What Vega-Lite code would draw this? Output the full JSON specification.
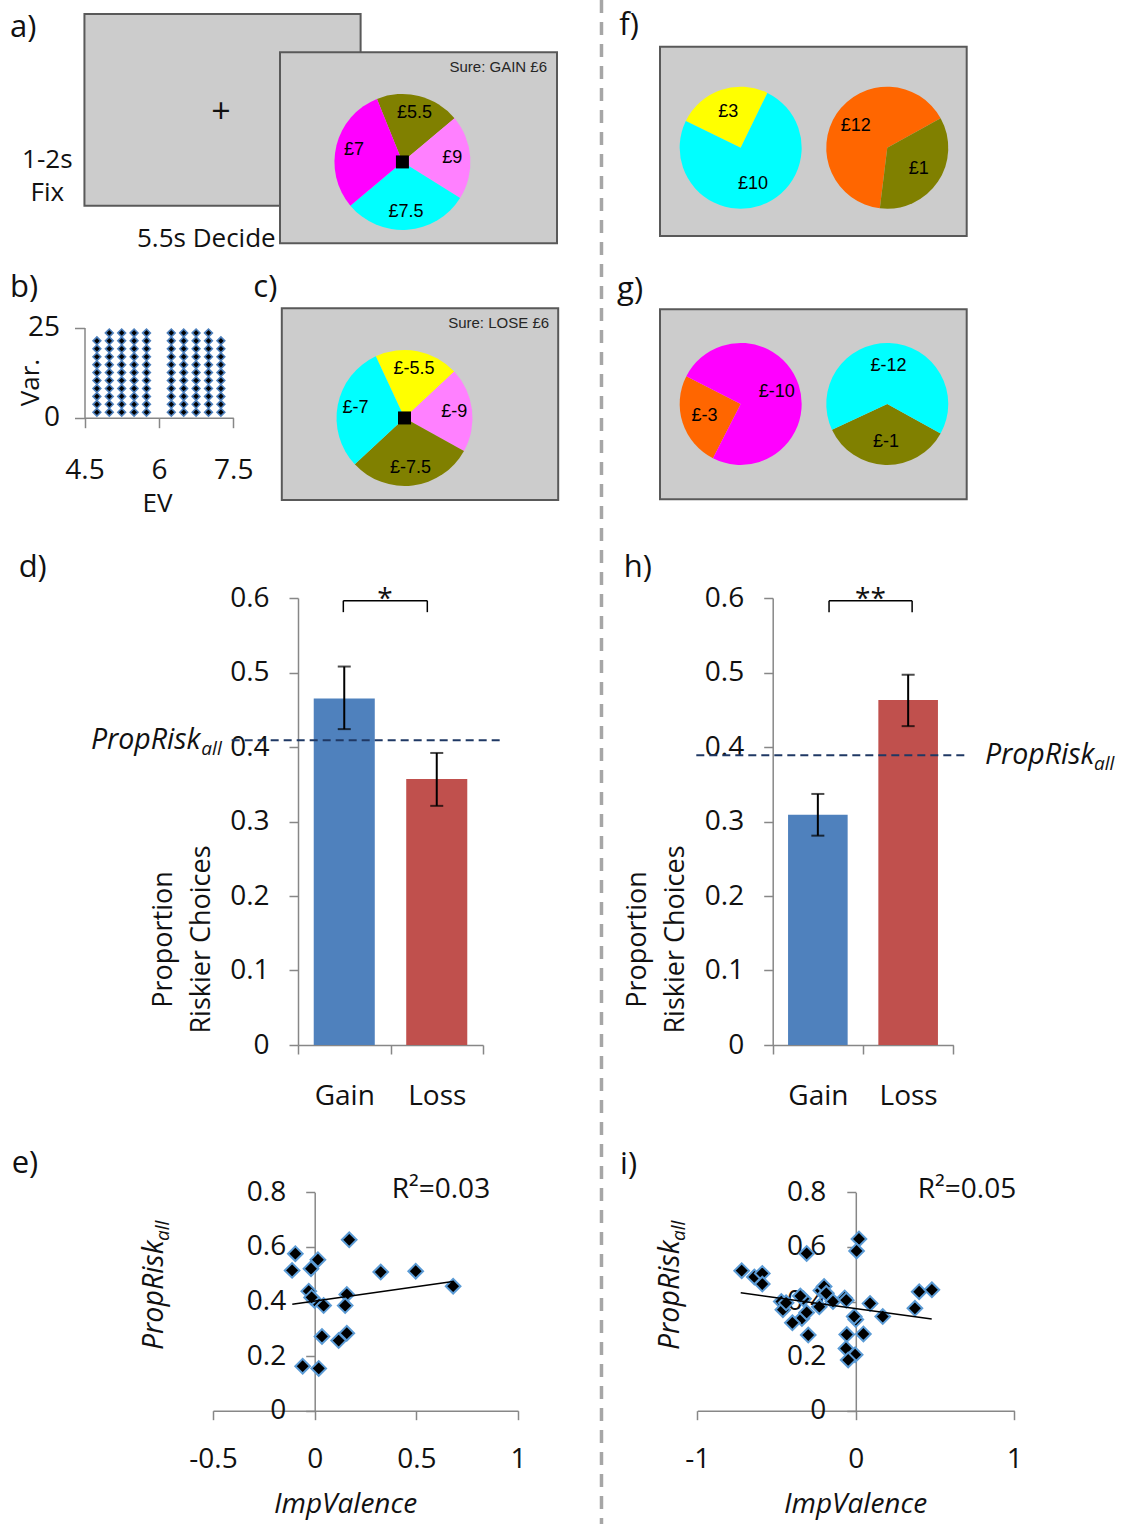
{
"$schema":"https://vega.github.io/schema/vega-lite/v6.json",
"width":1129,"height":1524,
"autosize":{"type":"none"},
"padding":0,
"background":"white",
"config":{
 "view":{"stroke":null},
 "font":"Open Sans",
 "locale":{"number":{"decimal":".","thousands":",","grouping":[3],"currency":["£",""],"minus":"-"}},
 "axis":{"grid":false,"domainColor":"#878787","domainWidth":1.5,"tickColor":"#878787","tickWidth":1.5,"tickSize":9,"labelFont":"Open Sans","labelFontSize":28,"labelColor":"#111111","labelFlush":false,"labelOverlap":false,"titleFont":"Open Sans","titleFontSize":25,"titleFontWeight":"normal","titleColor":"#111111"},
 "text":{"font":"Open Sans","color":"#111111"}
},
"datasets":{
 "pies":[
  {"pie":"a","label":"£5.5","colour":"olive","prob":0.2,"seq":1},
  {"pie":"a","label":"£9","colour":"pink","prob":0.2,"seq":2},
  {"pie":"a","label":"£7.5","colour":"cyan","prob":0.3,"seq":3},
  {"pie":"a","label":"£7","colour":"magenta","prob":0.3,"seq":4},
  {"pie":"c","label":"£-5.5","colour":"yellow","prob":0.2,"seq":1},
  {"pie":"c","label":"£-9","colour":"pink","prob":0.2,"seq":2},
  {"pie":"c","label":"£-7.5","colour":"olive","prob":0.3,"seq":3},
  {"pie":"c","label":"£-7","colour":"cyan","prob":0.3,"seq":4},
  {"pie":"f1","label":"£3","colour":"yellow","prob":0.25,"seq":1},
  {"pie":"f1","label":"£10","colour":"cyan","prob":0.75,"seq":2},
  {"pie":"f2","label":"£12","colour":"orange","prob":0.65,"seq":1},
  {"pie":"f2","label":"£1","colour":"olive","prob":0.35,"seq":2},
  {"pie":"g1","label":"£-3","colour":"orange","prob":0.25,"seq":1},
  {"pie":"g1","label":"£-10","colour":"magenta","prob":0.75,"seq":2},
  {"pie":"g2","label":"£-1","colour":"olive","prob":0.35,"seq":1},
  {"pie":"g2","label":"£-12","colour":"cyan","prob":0.65,"seq":2}
 ],
 "design":[
  {"ev":4.75,"v":1.5},{"ev":4.75,"v":3.7},{"ev":4.75,"v":5.9},{"ev":4.75,"v":8.1},{"ev":4.75,"v":10.3},{"ev":4.75,"v":12.5},{"ev":4.75,"v":14.7},{"ev":4.75,"v":16.9},{"ev":4.75,"v":19.1},{"ev":4.75,"v":21.3},
  {"ev":5,"v":1.5},{"ev":5,"v":3.7},{"ev":5,"v":5.9},{"ev":5,"v":8.1},{"ev":5,"v":10.3},{"ev":5,"v":12.5},{"ev":5,"v":14.7},{"ev":5,"v":16.9},{"ev":5,"v":19.1},{"ev":5,"v":21.3},{"ev":5,"v":23.5},
  {"ev":5.25,"v":1.5},{"ev":5.25,"v":3.7},{"ev":5.25,"v":5.9},{"ev":5.25,"v":8.1},{"ev":5.25,"v":10.3},{"ev":5.25,"v":12.5},{"ev":5.25,"v":14.7},{"ev":5.25,"v":16.9},{"ev":5.25,"v":19.1},{"ev":5.25,"v":21.3},{"ev":5.25,"v":23.5},
  {"ev":5.5,"v":1.5},{"ev":5.5,"v":3.7},{"ev":5.5,"v":5.9},{"ev":5.5,"v":8.1},{"ev":5.5,"v":10.3},{"ev":5.5,"v":12.5},{"ev":5.5,"v":14.7},{"ev":5.5,"v":16.9},{"ev":5.5,"v":19.1},{"ev":5.5,"v":21.3},{"ev":5.5,"v":23.5},
  {"ev":5.75,"v":1.5},{"ev":5.75,"v":3.7},{"ev":5.75,"v":5.9},{"ev":5.75,"v":8.1},{"ev":5.75,"v":10.3},{"ev":5.75,"v":12.5},{"ev":5.75,"v":14.7},{"ev":5.75,"v":16.9},{"ev":5.75,"v":19.1},{"ev":5.75,"v":21.3},{"ev":5.75,"v":23.5},
  {"ev":6.25,"v":1.5},{"ev":6.25,"v":3.7},{"ev":6.25,"v":5.9},{"ev":6.25,"v":8.1},{"ev":6.25,"v":10.3},{"ev":6.25,"v":12.5},{"ev":6.25,"v":14.7},{"ev":6.25,"v":16.9},{"ev":6.25,"v":19.1},{"ev":6.25,"v":21.3},{"ev":6.25,"v":23.5},
  {"ev":6.5,"v":1.5},{"ev":6.5,"v":3.7},{"ev":6.5,"v":5.9},{"ev":6.5,"v":8.1},{"ev":6.5,"v":10.3},{"ev":6.5,"v":12.5},{"ev":6.5,"v":14.7},{"ev":6.5,"v":16.9},{"ev":6.5,"v":19.1},{"ev":6.5,"v":21.3},{"ev":6.5,"v":23.5},
  {"ev":6.75,"v":1.5},{"ev":6.75,"v":3.7},{"ev":6.75,"v":5.9},{"ev":6.75,"v":8.1},{"ev":6.75,"v":10.3},{"ev":6.75,"v":12.5},{"ev":6.75,"v":14.7},{"ev":6.75,"v":16.9},{"ev":6.75,"v":19.1},{"ev":6.75,"v":21.3},{"ev":6.75,"v":23.5},
  {"ev":7,"v":1.5},{"ev":7,"v":3.7},{"ev":7,"v":5.9},{"ev":7,"v":8.1},{"ev":7,"v":10.3},{"ev":7,"v":12.5},{"ev":7,"v":14.7},{"ev":7,"v":16.9},{"ev":7,"v":19.1},{"ev":7,"v":21.3},{"ev":7,"v":23.5},
  {"ev":7.25,"v":1.5},{"ev":7.25,"v":3.7},{"ev":7.25,"v":5.9},{"ev":7.25,"v":8.1},{"ev":7.25,"v":10.3},{"ev":7.25,"v":12.5},{"ev":7.25,"v":14.7},{"ev":7.25,"v":16.9},{"ev":7.25,"v":19.1},{"ev":7.25,"v":21.3}
 ],
 "choices":[
  {"study":"d","cond":"Gain","prop":0.465,"lo":0.424,"hi":0.508},
  {"study":"d","cond":"Loss","prop":0.357,"lo":0.321,"hi":0.392},
  {"study":"h","cond":"Gain","prop":0.309,"lo":0.281,"hi":0.337},
  {"study":"h","cond":"Loss","prop":0.463,"lo":0.428,"hi":0.497}
 ],
 "propall":[{"study":"d","value":0.409},{"study":"h","value":0.389}],
 "scatterE":[
  {"imp":-0.095,"prop":0.575},{"imp":-0.111,"prop":0.514},{"imp":0.016,"prop":0.553},{"imp":-0.018,"prop":0.52},{"imp":-0.029,"prop":0.438},{"imp":0.0,"prop":0.404},{"imp":-0.015,"prop":0.415},{"imp":0.044,"prop":0.385},{"imp":0.158,"prop":0.426},{"imp":0.15,"prop":0.385},{"imp":0.17,"prop":0.626},{"imp":0.325,"prop":0.508},{"imp":0.497,"prop":0.511},{"imp":0.681,"prop":0.456},{"imp":0.036,"prop":0.272},{"imp":0.118,"prop":0.257},{"imp":0.158,"prop":0.284},{"imp":-0.059,"prop":0.163},{"imp":0.02,"prop":0.155}
 ],
 "scatterI":[
  {"imp":-0.72,"prop":0.513},{"imp":-0.64,"prop":0.49},{"imp":-0.59,"prop":0.503},{"imp":-0.59,"prop":0.464},{"imp":-0.31,"prop":0.576},{"imp":0.02,"prop":0.629},{"imp":0.005,"prop":0.585},{"imp":-0.47,"prop":0.4},{"imp":-0.46,"prop":0.37},{"imp":-0.44,"prop":0.395},{"imp":-0.33,"prop":0.41},{"imp":-0.35,"prop":0.42},{"imp":-0.34,"prop":0.338},{"imp":-0.4,"prop":0.322},{"imp":-0.31,"prop":0.36},{"imp":-0.3,"prop":0.277},{"imp":-0.23,"prop":0.381},{"imp":-0.22,"prop":0.44},{"imp":-0.2,"prop":0.455},{"imp":-0.186,"prop":0.43},{"imp":-0.144,"prop":0.4},{"imp":-0.07,"prop":0.413},{"imp":-0.06,"prop":0.405},{"imp":0.0,"prop":0.334},{"imp":-0.01,"prop":0.345},{"imp":-0.057,"prop":0.279},{"imp":0.048,"prop":0.281},{"imp":-0.062,"prop":0.228},{"imp":-0.004,"prop":0.205},{"imp":-0.048,"prop":0.186},{"imp":0.09,"prop":0.393},{"imp":0.17,"prop":0.345},{"imp":0.373,"prop":0.375},{"imp":0.4,"prop":0.436},{"imp":0.48,"prop":0.443}
 ],
 "fit":[
  {"study":"e","imp":-0.11,"prop":0.39},{"study":"e","imp":0.68,"prop":0.473},
  {"study":"i","imp":-0.726,"prop":0.432},{"study":"i","imp":0.479,"prop":0.336}
 ]
},
"resolve":{"scale":{"x":"independent","y":"independent","theta":"independent","color":"independent"}},
"layer":[
 {"layer":[
  {"data":{"values":[{"screen":"fixation"}]},"mark":{"type":"rect","fill":"#cccccc","stroke":"#595959","strokeWidth":2},
   "encoding":{"x":{"datum":-0.706,"type":"quantitative","scale":{"domain":[0,1],"range":[280,557],"nice":false,"zero":false},"axis":null},"x2":{"datum":0.291},
   "y":{"datum":-0.2005,"type":"quantitative","scale":{"domain":[0,1],"range":[52.3,243.3],"nice":false,"zero":false},"axis":null},"y2":{"datum":0.803}}},
  {"data":{"values":[{"label":"+"}]},"mark":{"type":"text","fontSize":34,"baseline":"middle"},
   "encoding":{"x":{"datum":-0.213,"type":"quantitative","axis":null},"y":{"datum":0.318,"type":"quantitative","axis":null},"text":{"field":"label"}}},
  {"data":{"values":[{"label":"1-2s"}]},"mark":{"type":"text","fontSize":26,"baseline":"middle"},
   "encoding":{"x":{"datum":-0.84,"type":"quantitative","axis":null},"y":{"datum":0.564,"type":"quantitative","axis":null},"text":{"field":"label"}}},
  {"data":{"values":[{"label":"Fix"}]},"mark":{"type":"text","fontSize":26,"baseline":"middle"},
   "encoding":{"x":{"datum":-0.84,"type":"quantitative","axis":null},"y":{"datum":0.738,"type":"quantitative","axis":null},"text":{"field":"label"}}},
  {"data":{"values":[{"label":"5.5s Decide"}]},"mark":{"type":"text","fontSize":26,"baseline":"middle"},
   "encoding":{"x":{"datum":-0.266,"type":"quantitative","axis":null},"y":{"datum":0.977,"type":"quantitative","axis":null},"text":{"field":"label"}}},
  {"data":{"values":[{"label":"a)"}]},"mark":{"type":"text","fontSize":31,"align":"left","baseline":"middle"},
   "encoding":{"x":{"datum":-0.975,"type":"quantitative","axis":null},"y":{"datum":-0.127,"type":"quantitative","axis":null},"text":{"field":"label"}}},
  {"data":{"values":[{"screen":"decision"}]},"mark":{"type":"rect","fill":"#cccccc","stroke":"#595959","strokeWidth":2},
   "encoding":{"x":{"datum":0,"type":"quantitative","axis":null},"x2":{"datum":1},"y":{"datum":0,"type":"quantitative","axis":null},"y2":{"datum":1}}},
  {"data":{"name":"pies"},"transform":[{"filter":{"field":"pie","equal":"a"}}],
   "encoding":{"theta":{"field":"prob","type":"quantitative","stack":true,"scale":{"domain":[0,1],"range":[-0.384,5.899]}},"order":{"field":"seq","type":"quantitative"},
     "x":{"datum":0.442,"type":"quantitative","axis":null},"y":{"datum":0.574,"type":"quantitative","axis":null}},
   "layer":[
    {"mark":{"type":"arc","outerRadius":68},"encoding":{"color":{"field":"colour","type":"nominal","legend":null,"scale":{"domain":["olive","pink","cyan","magenta","yellow","orange"],"range":["#808000","#ff80ff","#00ffff","#ff00ff","#ffff00","#ff6600"]}}}},
    {"mark":{"type":"text","radius":50,"font":"Liberation Sans","fontSize":18,"color":"black","baseline":"middle"},"encoding":{"text":{"field":"label"},"detail":{"field":"colour"}}}
   ]},
  {"data":{"values":[{"mark":"centre"}]},"mark":{"type":"square","size":169,"color":"black","filled":true,"opacity":1},
   "encoding":{"x":{"datum":0.442,"type":"quantitative","axis":null},"y":{"datum":0.574,"type":"quantitative","axis":null}}},
  {"data":{"values":[{"label":"Sure: GAIN £6"}]},"mark":{"type":"text","font":"Liberation Sans","fontSize":15,"align":"right","baseline":"middle","color":"#262626"},
   "encoding":{"x":{"datum":0.964,"type":"quantitative","axis":null},"y":{"datum":0.0754,"type":"quantitative","axis":null},"text":{"field":"label"}}}
 ]},
 {"layer":[
  {"data":{"name":"design"},"mark":{"type":"point","shape":"diamond","filled":true,"fill":"black","stroke":"#4f81bd","strokeWidth":1.6,"size":60,"opacity":1},
   "encoding":{
    "x":{"field":"ev","type":"quantitative","scale":{"domain":[4.5,7.5],"range":[84.5,233.3],"nice":false,"zero":false},
      "axis":{"orient":"bottom","offset":-1106.3,"values":[4.5,6,7.5],"format":"~g","tickSize":10,"labelPadding":29,"title":"EV","titleFontSize":26,"titleX":157,"titleY":86,"titleAlign":"center","titleBaseline":"middle"}},
    "y":{"field":"v","type":"quantitative","scale":{"domain":[0,25],"range":[417.7,327.5],"nice":false,"zero":false},
      "axis":{"orient":"left","offset":-84.5,"values":[0,25],"format":"~g","tickSize":10,"labelPadding":15,"title":"Var.","titleFontSize":26,"titleAngle":-90,"titleX":-54.5,"titleY":382,"titleAlign":"center","titleBaseline":"middle"}}}},
  {"data":{"values":[{"label":"b)"}]},"mark":{"type":"text","fontSize":31,"align":"left","baseline":"middle"},
   "encoding":{"x":{"datum":3.0,"type":"quantitative"},"y":{"datum":35.95,"type":"quantitative"},"text":{"field":"label"}}}
 ]},
 {"layer":[
  {"data":{"values":[{"screen":"loss"}]},"mark":{"type":"rect","fill":"#cccccc","stroke":"#595959","strokeWidth":2},
   "encoding":{"x":{"datum":0,"type":"quantitative","scale":{"domain":[0,1],"range":[281.8,558.2],"nice":false,"zero":false},"axis":null},"x2":{"datum":1},
   "y":{"datum":0,"type":"quantitative","scale":{"domain":[0,1],"range":[308.3,500],"nice":false,"zero":false},"axis":null},"y2":{"datum":1}}},
  {"data":{"name":"pies"},"transform":[{"filter":{"field":"pie","equal":"c"}}],
   "encoding":{"theta":{"field":"prob","type":"quantitative","stack":true,"scale":{"domain":[0,1],"range":[-0.436,5.847]}},"order":{"field":"seq","type":"quantitative"},
     "x":{"datum":0.444,"type":"quantitative","axis":null},"y":{"datum":0.572,"type":"quantitative","axis":null}},
   "layer":[
    {"mark":{"type":"arc","outerRadius":68},"encoding":{"color":{"field":"colour","type":"nominal","legend":null,"scale":{"domain":["olive","pink","cyan","magenta","yellow","orange"],"range":["#808000","#ff80ff","#00ffff","#ff00ff","#ffff00","#ff6600"]}}}},
    {"mark":{"type":"text","radius":50,"font":"Liberation Sans","fontSize":18,"color":"black","baseline":"middle"},"encoding":{"text":{"field":"label"},"detail":{"field":"colour"}}}
   ]},
  {"data":{"values":[{"mark":"centre"}]},"mark":{"type":"square","size":169,"color":"black","filled":true,"opacity":1},
   "encoding":{"x":{"datum":0.444,"type":"quantitative","axis":null},"y":{"datum":0.572,"type":"quantitative","axis":null}}},
  {"data":{"values":[{"label":"Sure: LOSE £6"}]},"mark":{"type":"text","font":"Liberation Sans","fontSize":15,"align":"right","baseline":"middle","color":"#262626"},
   "encoding":{"x":{"datum":0.967,"type":"quantitative","axis":null},"y":{"datum":0.078,"type":"quantitative","axis":null},"text":{"field":"label"}}},
  {"data":{"values":[{"label":"c)"}]},"mark":{"type":"text","fontSize":31,"align":"left","baseline":"middle"},
   "encoding":{"x":{"datum":-0.103,"type":"quantitative","axis":null},"y":{"datum":-0.106,"type":"quantitative","axis":null},"text":{"field":"label"}}}
 ]},
 {"resolve":{"scale":{"theta":"independent"}},
  "layer":[
  {"data":{"values":[{"screen":"gain pair"}]},"mark":{"type":"rect","fill":"#cccccc","stroke":"#595959","strokeWidth":2},
   "encoding":{"x":{"datum":0,"type":"quantitative","scale":{"domain":[0,1],"range":[660,966.7],"nice":false,"zero":false},"axis":null},"x2":{"datum":1},
   "y":{"datum":0,"type":"quantitative","scale":{"domain":[0,1],"range":[46.7,236],"nice":false,"zero":false},"axis":null},"y2":{"datum":1}}},
  {"data":{"name":"pies"},"transform":[{"filter":{"field":"pie","equal":"f1"}}],
   "encoding":{"theta":{"field":"prob","type":"quantitative","stack":true,"scale":{"domain":[0,1],"range":[-1.117,5.166]}},"order":{"field":"seq","type":"quantitative"},
     "x":{"datum":0.263,"type":"quantitative","axis":null},"y":{"datum":0.5336,"type":"quantitative","axis":null}},
   "layer":[
    {"mark":{"type":"arc","outerRadius":61},"encoding":{"color":{"field":"colour","type":"nominal","legend":null,"scale":{"domain":["olive","pink","cyan","magenta","yellow","orange"],"range":["#808000","#ff80ff","#00ffff","#ff00ff","#ffff00","#ff6600"]}}}},
    {"mark":{"type":"text","radius":38,"font":"Liberation Sans","fontSize":18,"color":"black","baseline":"middle"},"encoding":{"text":{"field":"label"},"detail":{"field":"colour"}}}
   ]},
  {"data":{"name":"pies"},"transform":[{"filter":{"field":"pie","equal":"f2"}}],
   "encoding":{"theta":{"field":"prob","type":"quantitative","stack":true,"scale":{"domain":[0,1],"range":[3.264,9.547]}},"order":{"field":"seq","type":"quantitative"},
     "x":{"datum":0.741,"type":"quantitative","axis":null},"y":{"datum":0.5336,"type":"quantitative","axis":null}},
   "layer":[
    {"mark":{"type":"arc","outerRadius":61},"encoding":{"color":{"field":"colour","type":"nominal","legend":null,"scale":{"domain":["olive","pink","cyan","magenta","yellow","orange"],"range":["#808000","#ff80ff","#00ffff","#ff00ff","#ffff00","#ff6600"]}}}},
    {"mark":{"type":"text","radius":38,"font":"Liberation Sans","fontSize":18,"color":"black","baseline":"middle"},"encoding":{"text":{"field":"label"},"detail":{"field":"colour"}}}
   ]},
  {"data":{"values":[{"label":"f)"}]},"mark":{"type":"text","fontSize":31,"align":"left","baseline":"middle"},
   "encoding":{"x":{"datum":-0.133,"type":"quantitative","axis":null},"y":{"datum":-0.11,"type":"quantitative","axis":null},"text":{"field":"label"}}}
 ]},
 {"resolve":{"scale":{"theta":"independent"}},
  "layer":[
  {"data":{"values":[{"screen":"loss pair"}]},"mark":{"type":"rect","fill":"#cccccc","stroke":"#595959","strokeWidth":2},
   "encoding":{"x":{"datum":0,"type":"quantitative","scale":{"domain":[0,1],"range":[660,966.7],"nice":false,"zero":false},"axis":null},"x2":{"datum":1},
   "y":{"datum":0,"type":"quantitative","scale":{"domain":[0,1],"range":[309.3,499.3],"nice":false,"zero":false},"axis":null},"y2":{"datum":1}}},
  {"data":{"name":"pies"},"transform":[{"filter":{"field":"pie","equal":"g1"}}],
   "encoding":{"theta":{"field":"prob","type":"quantitative","stack":true,"scale":{"domain":[0,1],"range":[3.613,9.896]}},"order":{"field":"seq","type":"quantitative"},
     "x":{"datum":0.263,"type":"quantitative","axis":null},"y":{"datum":0.498,"type":"quantitative","axis":null}},
   "layer":[
    {"mark":{"type":"arc","outerRadius":61},"encoding":{"color":{"field":"colour","type":"nominal","legend":null,"scale":{"domain":["olive","pink","cyan","magenta","yellow","orange"],"range":["#808000","#ff80ff","#00ffff","#ff00ff","#ffff00","#ff6600"]}}}},
    {"mark":{"type":"text","radius":38,"font":"Liberation Sans","fontSize":18,"color":"black","baseline":"middle"},"encoding":{"text":{"field":"label"},"detail":{"field":"colour"}}}
   ]},
  {"data":{"name":"pies"},"transform":[{"filter":{"field":"pie","equal":"g2"}}],
   "encoding":{"theta":{"field":"prob","type":"quantitative","stack":true,"scale":{"domain":[0,1],"range":[2.077,8.36]}},"order":{"field":"seq","type":"quantitative"},
     "x":{"datum":0.741,"type":"quantitative","axis":null},"y":{"datum":0.498,"type":"quantitative","axis":null}},
   "layer":[
    {"mark":{"type":"arc","outerRadius":61},"encoding":{"color":{"field":"colour","type":"nominal","legend":null,"scale":{"domain":["olive","pink","cyan","magenta","yellow","orange"],"range":["#808000","#ff80ff","#00ffff","#ff00ff","#ffff00","#ff6600"]}}}},
    {"mark":{"type":"text","radius":38,"font":"Liberation Sans","fontSize":18,"color":"black","baseline":"middle"},"encoding":{"text":{"field":"label"},"detail":{"field":"colour"}}}
   ]},
  {"data":{"values":[{"label":"g)"}]},"mark":{"type":"text","fontSize":31,"align":"left","baseline":"middle"},
   "encoding":{"x":{"datum":-0.14,"type":"quantitative","axis":null},"y":{"datum":-0.102,"type":"quantitative","axis":null},"text":{"field":"label"}}}
 ]},
 {"data":{"name":"choices"},"transform":[{"filter":{"field":"study","equal":"d"}}],
  "layer":[
  {"mark":{"type":"bar","width":{"band":0.66}},
   "encoding":{
    "x":{"field":"cond","type":"nominal","scale":{"domain":["Gain","Loss"],"range":[298,483],"paddingInner":0,"paddingOuter":0},
      "axis":{"orient":"bottom","offset":-479,"title":null,"tickBand":"extent","labelAngle":0,"labelPadding":28}},
    "y":{"field":"prop","type":"quantitative","scale":{"domain":[0,0.6],"range":[1045,598],"nice":false,"zero":false},
      "axis":{"orient":"left","offset":-298,"values":[0,0.1,0.2,0.3,0.4,0.5,0.6],"format":"~g","labelPadding":20,"title":["Proportion","Riskier Choices"],"titleFontSize":27,"titleAngle":-90,"titleX":-135,"titleY":939,"titleAlign":"center","titleBaseline":"middle","titleLineHeight":38}},
    "color":{"field":"cond","type":"nominal","legend":null,"scale":{"domain":["Gain","Loss"],"range":["#4f81bd","#c0504d"]}}}},
  {"mark":{"type":"rule","color":"black","strokeWidth":2},"encoding":{"x":{"field":"cond","type":"nominal"},"y":{"field":"lo","type":"quantitative"},"y2":{"field":"hi"}}},
  {"mark":{"type":"tick","color":"black","thickness":2,"size":13},"encoding":{"x":{"field":"cond","type":"nominal"},"y":{"field":"lo","type":"quantitative"}}},
  {"mark":{"type":"tick","color":"black","thickness":2,"size":13},"encoding":{"x":{"field":"cond","type":"nominal"},"y":{"field":"hi","type":"quantitative"}}}
 ]},
 {"layer":[
  {"data":{"name":"propall"},"transform":[{"filter":{"field":"study","equal":"d"}}],
   "mark":{"type":"rule","color":"#1f3864","strokeWidth":2,"strokeDash":[8,5]},
   "encoding":{"x":{"datum":-0.717,"type":"quantitative","scale":{"domain":[0,2],"range":[298,483],"nice":false,"zero":false},"axis":null},"x2":{"datum":2.219},
    "y":{"field":"value","type":"quantitative","scale":{"domain":[0,0.6],"range":[1045,598],"nice":false,"zero":false},"axis":null}}},
  {"data":{"name":"propall"},"transform":[{"filter":{"field":"study","equal":"d"}}],
   "mark":{"type":"text","text":"PropRisk","align":"right","baseline":"middle","fontSize":28.5,"fontStyle":"italic"},
   "encoding":{"x":{"datum":-1.054,"type":"quantitative","axis":null},"y":{"field":"value","type":"quantitative","axis":null}}},
  {"data":{"name":"propall"},"transform":[{"filter":{"field":"study","equal":"d"}}],
   "mark":{"type":"text","text":"all","align":"right","baseline":"middle","fontSize":19,"fontStyle":"italic","dy":9},
   "encoding":{"x":{"datum":-0.825,"type":"quantitative","axis":null},"y":{"field":"value","type":"quantitative","axis":null}}},
  {"data":{"values":[{"part":"bracket"}]},"mark":{"type":"rule","color":"black","strokeWidth":1.5},
   "encoding":{"x":{"datum":0.49,"type":"quantitative","axis":null},"x2":{"datum":1.398},"y":{"datum":0.5964,"type":"quantitative","axis":null}}},
  {"data":{"values":[{"part":"bracket"}]},"mark":{"type":"rule","color":"black","strokeWidth":1.5},
   "encoding":{"x":{"datum":0.49,"type":"quantitative","axis":null},"y":{"datum":0.5964,"type":"quantitative","axis":null},"y2":{"datum":0.581}}},
  {"data":{"values":[{"part":"bracket"}]},"mark":{"type":"rule","color":"black","strokeWidth":1.5},
   "encoding":{"x":{"datum":1.398,"type":"quantitative","axis":null},"y":{"datum":0.5964,"type":"quantitative","axis":null},"y2":{"datum":0.581}}},
  {"data":{"values":[{"label":"*"}]},"mark":{"type":"text","fontSize":28,"baseline":"alphabetic"},
   "encoding":{"x":{"datum":0.941,"type":"quantitative","axis":null},"y":{"datum":0.587,"type":"quantitative","axis":null},"text":{"field":"label"}}},
  {"data":{"values":[{"label":"d)"}]},"mark":{"type":"text","fontSize":31,"align":"left","baseline":"middle"},
   "encoding":{"x":{"datum":-3.02,"type":"quantitative","axis":null},"y":{"datum":0.6396,"type":"quantitative","axis":null},"text":{"field":"label"}}}
 ]},
 {"data":{"name":"choices"},"transform":[{"filter":{"field":"study","equal":"h"}}],
  "layer":[
  {"mark":{"type":"bar","width":{"band":0.66}},
   "encoding":{
    "x":{"field":"cond","type":"nominal","scale":{"domain":["Gain","Loss"],"range":[772.7,953.3],"paddingInner":0,"paddingOuter":0},
      "axis":{"orient":"bottom","offset":-479,"title":null,"tickBand":"extent","labelAngle":0,"labelPadding":28}},
    "y":{"field":"prop","type":"quantitative","scale":{"domain":[0,0.6],"range":[1045,598],"nice":false,"zero":false},
      "axis":{"orient":"left","offset":-772.7,"values":[0,0.1,0.2,0.3,0.4,0.5,0.6],"format":"~g","labelPadding":20,"title":["Proportion","Riskier Choices"],"titleFontSize":27,"titleAngle":-90,"titleX":-135.2,"titleY":939,"titleAlign":"center","titleBaseline":"middle","titleLineHeight":38}},
    "color":{"field":"cond","type":"nominal","legend":null,"scale":{"domain":["Gain","Loss"],"range":["#4f81bd","#c0504d"]}}}},
  {"mark":{"type":"rule","color":"black","strokeWidth":2},"encoding":{"x":{"field":"cond","type":"nominal"},"y":{"field":"lo","type":"quantitative"},"y2":{"field":"hi"}}},
  {"mark":{"type":"tick","color":"black","thickness":2,"size":13},"encoding":{"x":{"field":"cond","type":"nominal"},"y":{"field":"lo","type":"quantitative"}}},
  {"mark":{"type":"tick","color":"black","thickness":2,"size":13},"encoding":{"x":{"field":"cond","type":"nominal"},"y":{"field":"hi","type":"quantitative"}}}
 ]},
 {"layer":[
  {"data":{"name":"propall"},"transform":[{"filter":{"field":"study","equal":"h"}}],
   "mark":{"type":"rule","color":"#1f3864","strokeWidth":2,"strokeDash":[8,5]},
   "encoding":{"x":{"datum":-0.846,"type":"quantitative","scale":{"domain":[0,2],"range":[772.7,953.3],"nice":false,"zero":false},"axis":null},"x2":{"datum":2.147},
    "y":{"field":"value","type":"quantitative","scale":{"domain":[0,0.6],"range":[1045,598],"nice":false,"zero":false},"axis":null}}},
  {"data":{"name":"propall"},"transform":[{"filter":{"field":"study","equal":"h"}}],
   "mark":{"type":"text","text":"PropRisk","align":"left","baseline":"middle","fontSize":28.5,"fontStyle":"italic"},
   "encoding":{"x":{"datum":2.35,"type":"quantitative","axis":null},"y":{"field":"value","type":"quantitative","axis":null}}},
  {"data":{"name":"propall"},"transform":[{"filter":{"field":"study","equal":"h"}}],
   "mark":{"type":"text","text":"all","align":"left","baseline":"middle","fontSize":19,"fontStyle":"italic","dy":9},
   "encoding":{"x":{"datum":3.558,"type":"quantitative","axis":null},"y":{"field":"value","type":"quantitative","axis":null}}},
  {"data":{"values":[{"part":"bracket"}]},"mark":{"type":"rule","color":"black","strokeWidth":1.5},
   "encoding":{"x":{"datum":0.624,"type":"quantitative","axis":null},"x2":{"datum":1.544},"y":{"datum":0.5964,"type":"quantitative","axis":null}}},
  {"data":{"values":[{"part":"bracket"}]},"mark":{"type":"rule","color":"black","strokeWidth":1.5},
   "encoding":{"x":{"datum":0.624,"type":"quantitative","axis":null},"y":{"datum":0.5964,"type":"quantitative","axis":null},"y2":{"datum":0.581}}},
  {"data":{"values":[{"part":"bracket"}]},"mark":{"type":"rule","color":"black","strokeWidth":1.5},
   "encoding":{"x":{"datum":1.544,"type":"quantitative","axis":null},"y":{"datum":0.5964,"type":"quantitative","axis":null},"y2":{"datum":0.581}}},
  {"data":{"values":[{"label":"**"}]},"mark":{"type":"text","fontSize":28,"baseline":"alphabetic"},
   "encoding":{"x":{"datum":1.083,"type":"quantitative","axis":null},"y":{"datum":0.587,"type":"quantitative","axis":null},"text":{"field":"label"}}},
  {"data":{"values":[{"label":"h)"}]},"mark":{"type":"text","fontSize":31,"align":"left","baseline":"middle"},
   "encoding":{"x":{"datum":-1.65,"type":"quantitative","axis":null},"y":{"datum":0.6396,"type":"quantitative","axis":null},"text":{"field":"label"}}},
  {"data":{"values":[{"part":"divider"}]},"mark":{"type":"rule","color":"#a6a6a6","strokeWidth":3.5,"strokeDash":[13,9]},
   "encoding":{"x":{"datum":-1.896,"type":"quantitative","axis":null}}}
 ]},
 {"layer":[
  {"data":{"name":"scatterE"},"mark":{"type":"point","shape":"diamond","filled":true,"fill":"black","stroke":"#5b9bd5","strokeWidth":2,"size":215,"opacity":1},
   "encoding":{
    "x":{"field":"imp","type":"quantitative","scale":{"domain":[-0.5,1],"range":[213,518],"nice":false,"zero":false},
      "axis":{"orient":"bottom","offset":-113.3,"values":[-0.5,0,0.5,1],"format":"~g","labelPadding":26,"title":"ImpValence","titleFontStyle":"italic","titleFontSize":28,"titleX":345,"titleY":94,"titleAlign":"center","titleBaseline":"middle"}},
    "y":{"field":"prop","type":"quantitative","scale":{"domain":[0,0.8],"range":[1410.7,1192.3],"nice":false,"zero":false},
      "axis":{"orient":"left","offset":-314.7,"values":[0,0.2,0.4,0.6,0.8],"format":"~g","labelPadding":20,"title":null}}}},
  {"data":{"name":"fit"},"transform":[{"filter":{"field":"study","equal":"e"}}],"mark":{"type":"line","color":"black","strokeWidth":1.5},
   "encoding":{"x":{"field":"imp","type":"quantitative"},"y":{"field":"prop","type":"quantitative"}}},
  {"data":{"values":[{"label":"R²=0.03"}]},"mark":{"type":"text","fontSize":28,"align":"left","baseline":"middle"},
   "encoding":{"x":{"datum":0.379,"type":"quantitative"},"y":{"datum":0.808,"type":"quantitative"},"text":{"field":"label"}}},
  {"data":{"values":[{"label":"PropRisk"}]},"mark":{"type":"text","fontSize":28.5,"fontStyle":"italic","align":"left","baseline":"middle","angle":270},
   "encoding":{"x":{"datum":-0.79,"type":"quantitative"},"y":{"datum":0.2223,"type":"quantitative"},"text":{"field":"label"}}},
  {"data":{"values":[{"label":"all"}]},"mark":{"type":"text","fontSize":19,"fontStyle":"italic","align":"left","baseline":"middle","angle":270,"dy":9},
   "encoding":{"x":{"datum":-0.79,"type":"quantitative"},"y":{"datum":0.6216,"type":"quantitative"},"text":{"field":"label"}}},
  {"data":{"values":[{"label":"e)"}]},"mark":{"type":"text","fontSize":31,"align":"left","baseline":"middle"},
   "encoding":{"x":{"datum":-1.49,"type":"quantitative"},"y":{"datum":0.904,"type":"quantitative"},"text":{"field":"label"}}}
 ]},
 {"layer":[
  {"data":{"name":"scatterI"},"mark":{"type":"point","shape":"diamond","filled":true,"fill":"black","stroke":"#5b9bd5","strokeWidth":2,"size":215,"opacity":1},
   "encoding":{
    "x":{"field":"imp","type":"quantitative","scale":{"domain":[-1,1],"range":[697.3,1014.3],"nice":false,"zero":false},
      "axis":{"orient":"bottom","offset":-113.3,"values":[-1,0,1],"format":"~g","labelPadding":26,"title":"ImpValence","titleFontStyle":"italic","titleFontSize":28,"titleX":855,"titleY":94,"titleAlign":"center","titleBaseline":"middle"}},
    "y":{"field":"prop","type":"quantitative","scale":{"domain":[0,0.8],"range":[1410.7,1192.3],"nice":false,"zero":false},
      "axis":{"orient":"left","offset":-855.8,"values":[0,0.2,0.4,0.6,0.8],"format":"~g","labelPadding":21,"title":null}}}},
  {"data":{"name":"fit"},"transform":[{"filter":{"field":"study","equal":"i"}}],"mark":{"type":"line","color":"black","strokeWidth":1.5},
   "encoding":{"x":{"field":"imp","type":"quantitative"},"y":{"field":"prop","type":"quantitative"}}},
  {"data":{"values":[{"label":"R²=0.05"}]},"mark":{"type":"text","fontSize":28,"align":"left","baseline":"middle"},
   "encoding":{"x":{"datum":0.391,"type":"quantitative"},"y":{"datum":0.808,"type":"quantitative"},"text":{"field":"label"}}},
  {"data":{"values":[{"label":"PropRisk"}]},"mark":{"type":"text","fontSize":28.5,"fontStyle":"italic","align":"left","baseline":"middle","angle":270},
   "encoding":{"x":{"datum":-1.172,"type":"quantitative"},"y":{"datum":0.2223,"type":"quantitative"},"text":{"field":"label"}}},
  {"data":{"values":[{"label":"all"}]},"mark":{"type":"text","fontSize":19,"fontStyle":"italic","align":"left","baseline":"middle","angle":270,"dy":9},
   "encoding":{"x":{"datum":-1.172,"type":"quantitative"},"y":{"datum":0.6216,"type":"quantitative"},"text":{"field":"label"}}},
  {"data":{"values":[{"label":"i)"}]},"mark":{"type":"text","fontSize":31,"align":"left","baseline":"middle"},
   "encoding":{"x":{"datum":-1.487,"type":"quantitative"},"y":{"datum":0.9,"type":"quantitative"},"text":{"field":"label"}}}
 ]}
]
}
